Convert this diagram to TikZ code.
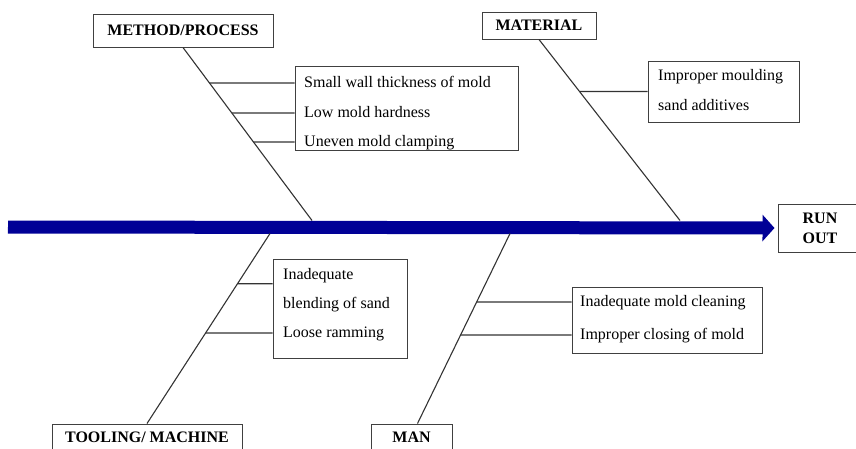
\documentclass[tikz,border=0pt]{standalone}
\usepackage{fontspec}
\setmainfont{Liberation Serif}
\usetikzlibrary{arrows.meta, positioning, calc}
\definecolor{spineblue}{RGB}{0,0,150}

\begin{document}
\begin{tikzpicture}[x=1pt, y=-1pt, >={Triangle[length=12pt, width=26pt]}]
  \tikzstyle{head} = [draw=black!75, line width=1pt, inner sep=0pt, align=center, font=\fontsize{16}{20}\selectfont\bfseries]
  \tikzstyle{causebox} = [draw=black!75, line width=1pt, inner sep=0pt]
  \tikzstyle{cause} = [anchor=west, inner sep=0pt, text height=11pt, text depth=3pt, font=\fontsize{16}{20}\selectfont]
  \tikzstyle{bone} = [black!80, line width=1.1pt]
  \useasboundingbox (0,0) rectangle (856,448);

  % main categories
  \node [head, minimum width=180pt, minimum height=33pt] (method) at (183,30.5) {METHOD/PROCESS};
  \node [head, minimum width=114pt, minimum height=27pt] (material) at (539,25.5) {MATERIAL};
  \node [head, minimum width=190pt, minimum height=26pt, text height=11pt, text depth=0pt] (tooling) at (147,437) {TOOLING/ MACHINE};
  \node [head, minimum width=81pt, minimum height=26pt, text height=11pt, text depth=0pt] (man) at (411.5,437) {MAN};
  \node [head, minimum width=84pt, minimum height=48pt] (runout) at (820,228) {RUN\\OUT};

  % spine
  \coordinate (tail) at (8,227);
  \coordinate (mp) at (312,220.5);
  \coordinate (mat) at (680,220.5);
  \coordinate (tl) at (270,233.5);
  \coordinate (mn) at (510,233.5);
  \draw [->, spineblue, line width=13pt, shorten >=3pt] (tail) -- (runout.west);

  % causes
  \node [causebox, minimum width=223pt, minimum height=84pt] (mbox) at (406.5,108) {};
  \node [cause] (mc1) at (304,83) {Small wall thickness of mold};
  \node [cause] (mc2) at (304,113) {Low mold hardness};
  \node [cause] (mc3) at (304,142) {Uneven mold clamping};

  \node [causebox, minimum width=151pt, minimum height=61pt] (matbox) at (723.5,91.5) {};
  \node [cause] (ma1) at (658,76) {Improper moulding};
  \node [cause] (ma2) at (658,106) {sand additives};

  \node [causebox, minimum width=134pt, minimum height=99pt] (tbox) at (340,308.5) {};
  \node [cause] (tc1a) at (283,275) {Inadequate};
  \node [cause] (tc1b) at (283,304) {blending of sand};
  \node [cause] (tc2) at (283,333) {Loose ramming};

  \node [causebox, minimum width=190pt, minimum height=66pt] (nbox) at (667,320) {};
  \node [cause] (nc1) at (580,302) {Inadequate mold cleaning};
  \node [cause] (nc2) at (580,335) {Improper closing of mold};

  % bones
  \draw [bone] (method.south) -- (mp);
  \draw [bone] (material.south) -- (mat);
  \draw [bone] (tooling.north) -- (tl);
  \draw [bone] ([xshift=6pt]man.north) coordinate (mtop) -- (mn);

  \coordinate (tc1) at ($(tc1a.west)!0.3!(tc1b.west)$);
  \coordinate (tc1e) at ($(tc1a.east)!0.3!(tc1b.east)$);
  \draw [bone] (intersection of method.south--mp and mc1.west--mc1.east) -- (mc1.west -| mbox.west);
  \draw [bone] (intersection of method.south--mp and mc2.west--mc2.east) -- (mc2.west -| mbox.west);
  \draw [bone] (intersection of method.south--mp and mc3.west--mc3.east) -- (mc3.west -| mbox.west);
  \draw [bone] (intersection of material.south--mat and matbox.west--matbox.east) -- (matbox.west);
  \draw [bone] (intersection of tooling.north--tl and tc1--tc1e) -- (tc1 -| tbox.west);
  \draw [bone] (intersection of tooling.north--tl and tc2.west--tc2.east) -- (tc2.west -| tbox.west);
  \draw [bone] (intersection of mtop--mn and nc1.west--nc1.east) -- (nc1.west -| nbox.west);
  \draw [bone] (intersection of mtop--mn and nc2.west--nc2.east) -- (nc2.west -| nbox.west);
\end{tikzpicture}
\end{document}
